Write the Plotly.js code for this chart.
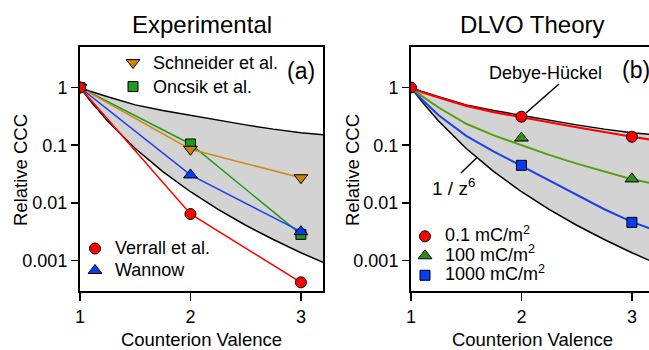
<!DOCTYPE html>
<html><head><meta charset="utf-8">
<script src="https://cdn.plot.ly/plotly-3.0.1.min.js"></script>
<style>html,body{margin:0;padding:0;overflow:hidden;background:#fff}#chart{width:660px;height:350px}</style>
</head><body><div id="chart"></div>
<script>
// ---- data ----
const valence = [1, 2, 3];
const verrall = [1, 0.00642, 0.00042];
const wannow = [1, 0.0305, 0.00317];
const schneider = [1, 0.085, 0.0273];
const oncsik = [1, 0.105, 0.00285];

const zCurve = [1, 1.1, 1.25, 1.5, 1.75, 2, 2.25, 2.5, 2.75, 3, 3.2];
const upperBound = [1, 0.85, 0.69, 0.50, 0.40, 0.33, 0.27, 0.225, 0.19, 0.165, 0.152];
const lowerBound = [1, 0.564, 0.262, 0.0878, 0.0348, 0.0156, 0.00771, 0.0041, 0.00232, 0.00137, 0.00093];
const curve01 = [1, 0.83, 0.67, 0.48, 0.375, 0.31, 0.25, 0.205, 0.168, 0.14, 0.123];
const curve100 = [1, 0.71, 0.45, 0.235, 0.148, 0.10, 0.068, 0.048, 0.0347, 0.0257, 0.0214];
const curve1000 = [1, 0.617, 0.331, 0.145, 0.0776, 0.0437, 0.024, 0.0135, 0.00776, 0.00468, 0.00339];

const markerZ = [2, 3];
const pts01 = [1, 0.312, 0.14];
const pts100 = [0.133, 0.026];
const pts1000 = [0.0448, 0.0046];

const tickVals = [0.001, 0.01, 0.1, 1];
const tickText = ['0.001', '0.01', '0.1', '1'];
const xTickVals = [1, 2, 3];

// ---- styling ----
const FONT = 'Liberation Sans, Arial, Helvetica, sans-serif';
const W = 660, H = 350;
const GRAY = '#d3d3d3';
const C = {red: '#ff0000', blue: '#1f40e6', green: '#1f9a1f', orange: '#d08a14',
           green2: '#56a010', greenM: '#2f8f1a', blueM: '#0a3cf5'};
const outline = {color: '#000', width: 1};
const big = t => '<span style="font-size:18px">' + t + '</span>';

function band(xa, ya) {
  return [
    {x: zCurve, y: lowerBound, xaxis: xa, yaxis: ya, mode: 'lines', line: {color: '#000', width: 1.5}, showlegend: false},
    {x: zCurve, y: upperBound, xaxis: xa, yaxis: ya, mode: 'lines', fill: 'tonexty', fillcolor: GRAY, line: {color: '#000', width: 1.5}, showlegend: false}
  ];
}
function series(y, color, mcolor, symbol, size, xa, ya) {
  return {x: valence, y: y, xaxis: xa, yaxis: ya, mode: 'lines+markers', showlegend: false,
    line: {color: color, width: 1.5}, marker: {symbol: symbol, size: size, color: mcolor, line: outline}};
}
function key(name, mcolor, symbol, size, legend, xa, ya) {
  return {x: [null], y: [null], xaxis: xa, yaxis: ya, mode: 'markers', name: big(name), legend: legend, showlegend: true,
    marker: {symbol: symbol, size: size, color: mcolor, line: outline}};
}

const traces = [
  ...band('x', 'y'),
  series(oncsik, C.green, C.green, 'square', 10, 'x', 'y'),
  series(schneider, C.orange, '#c98408', 'triangle-down', 12, 'x', 'y'),
  series(wannow, C.blue, C.blueM, 'triangle-up', 12, 'x', 'y'),
  series(verrall, C.red, C.red, 'circle', 11, 'x', 'y'),
  key('Schneider et al.', '#c98408', 'triangle-down', 12, 'legend', 'x', 'y'),
  key('Oncsik et al.', C.green, 'square', 10, 'legend', 'x', 'y'),
  key('Verrall et al.', C.red, 'circle', 11, 'legend2', 'x', 'y'),
  key('Wannow', C.blueM, 'triangle-up', 12, 'legend2', 'x', 'y'),

  ...band('x2', 'y2'),
  {x: zCurve, y: curve1000, xaxis: 'x2', yaxis: 'y2', mode: 'lines', line: {color: C.blue, width: 2}, showlegend: false},
  {x: zCurve, y: curve100, xaxis: 'x2', yaxis: 'y2', mode: 'lines', line: {color: C.green2, width: 2}, showlegend: false},
  {x: zCurve, y: curve01, xaxis: 'x2', yaxis: 'y2', mode: 'lines', line: {color: C.red, width: 2.2}, showlegend: false},
  {x: markerZ, y: pts1000, xaxis: 'x2', yaxis: 'y2', mode: 'markers', showlegend: false, marker: {symbol: 'square', size: 10, color: C.blueM, line: outline}},
  {x: markerZ, y: pts100, xaxis: 'x2', yaxis: 'y2', mode: 'markers', showlegend: false, marker: {symbol: 'triangle-up', size: 12, color: C.greenM, line: outline}},
  {x: valence, y: pts01, xaxis: 'x2', yaxis: 'y2', mode: 'markers', showlegend: false, marker: {symbol: 'circle', size: 11, color: C.red, line: outline}},
  key('0.1 mC/m<sup>2</sup>', C.red, 'circle', 11, 'legend3', 'x2', 'y2'),
  key('100 mC/m<sup>2</sup>', C.greenM, 'triangle-up', 12, 'legend3', 'x2', 'y2'),
  key('1000 mC/m<sup>2</sup>', C.blueM, 'square', 10, 'legend3', 'x2', 'y2')
];

const px = v => v / W, py = v => 1 - v / H;
const yDom = [py(291), py(47)];

function xAxis(dom, anchor) {
  return {domain: dom, anchor: anchor, range: [1, 3.2], tickvals: xTickVals, ticks: 'outside', ticklen: 8, tickwidth: 1.5,
    tickcolor: '#000', showline: true, linecolor: '#000', linewidth: 2, mirror: true, showgrid: false, zeroline: false,
    tickfont: {family: FONT, size: 18, color: '#000'},
    title: {text: 'Counterion Valence', font: {family: FONT, size: 18.5, color: '#000'}, standoff: 8}};
}
function yAxis(anchor) {
  return {domain: yDom, anchor: anchor, type: 'log', range: [-3.527, 0.702], tickvals: tickVals, ticktext: tickText,
    ticks: 'outside', ticklen: 7, tickwidth: 1.5, tickcolor: '#000', showline: true, linecolor: '#000', linewidth: 2,
    mirror: true, showgrid: false, zeroline: false,
    tickfont: {family: FONT, size: 18, color: '#000'}};
}
const legendBase = {bgcolor: 'rgba(0,0,0,0)', borderwidth: 0,
  xanchor: 'left', yanchor: 'top', traceorder: 'normal'};
const lfont = s => ({family: FONT, size: s, color: '#000'});

const ann = (text, x, y, size, extra) => Object.assign({text: text, x: px(x), y: py(y), xref: 'paper', yref: 'paper',
  showarrow: false, xanchor: 'center', yanchor: 'middle', font: {family: FONT, size: size, color: '#000'}}, extra || {});

const layout = {
  width: W, height: H, margin: {l: 0, r: 0, t: 0, b: 0}, paper_bgcolor: '#fff', plot_bgcolor: '#fff',
  showlegend: true, hovermode: false,
  xaxis: xAxis([px(80), px(323)], 'y'),
  yaxis: yAxis('x'),
  xaxis2: xAxis([px(411), px(654)], 'y2'),
  yaxis2: yAxis('x2'),
  legend: Object.assign({}, legendBase, {font: lfont(16.2), x: px(113), y: py(45.5)}),
  legend2: Object.assign({}, legendBase, {font: lfont(14.6), x: px(75), y: py(232.5)}),
  legend3: Object.assign({}, legendBase, {font: lfont(12.7), x: px(405), y: py(221.5)}),
  annotations: [
    ann('Experimental', 201.5, 24, 24),
    ann('DLVO Theory', 532.5, 24, 24),
    ann('(a)', 301, 71, 23),
    ann('(b)', 636, 70, 23),
    ann('Debye-Hückel', 545, 72.5, 18),
    ann('1 / z<sup>6</sup>', 453, 187, 19),
    ann('Relative CCC', 20, 170, 18.5, {textangle: -90}),
    ann('Relative CCC', 352, 170, 18.5, {textangle: -90})
  ],
  shapes: [
    {type: 'line', xref: 'paper', yref: 'paper', x0: px(559), y0: py(84), x1: px(526), y1: py(113), line: {color: '#000', width: 1.5}},
    {type: 'line', xref: 'paper', yref: 'paper', x0: px(461), y0: py(173), x1: px(476.5), y1: py(158), line: {color: '#000', width: 1.5}}
  ]
};

Plotly.newPlot('chart', traces, layout, {staticPlot: true, displayModeBar: false});
</script>
</body></html>
